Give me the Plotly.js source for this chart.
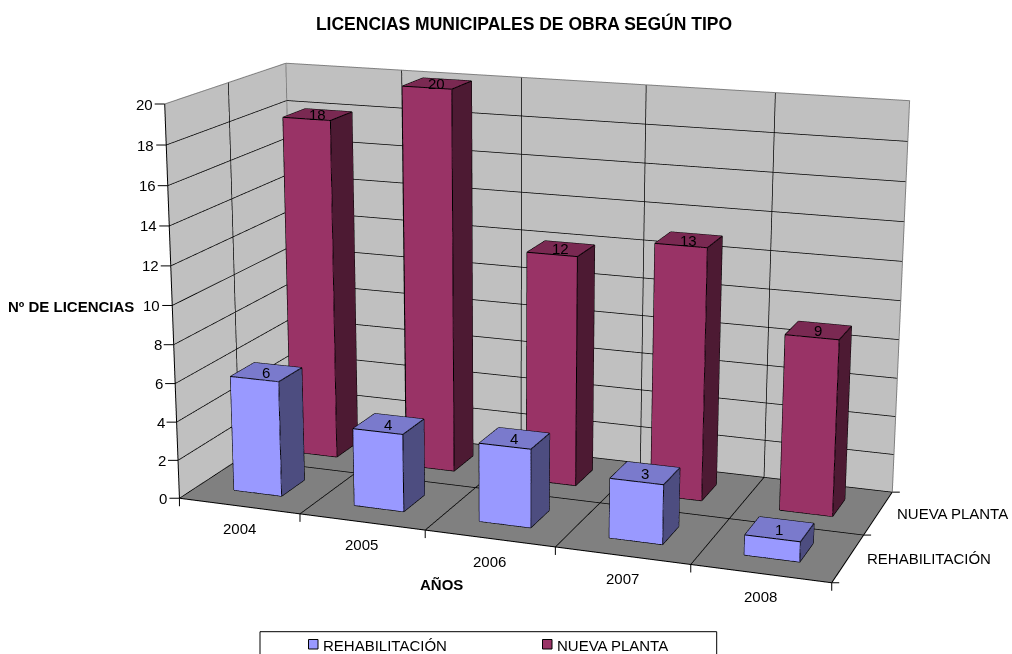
<!DOCTYPE html>
<html><head><meta charset="utf-8"><script src="https://cdn.plot.ly/plotly-3.0.1.min.js"></script>
<style>html,body{margin:0;padding:0;background:#fff;overflow:hidden}</style></head><body><div id="c" style="width:1012px;height:654px"></div>
<script>
var years=['2004','2005','2006','2007','2008'];
var series=['REHABILITACIÓN','NUEVA PLANTA'];
var rehab=[6,4,4,3,1];
var nueva=[18,20,12,13,9];
var zTicks=[0,2,4,6,8,10,12,14,16,18,20];
var W=1012,H=654;
var eye={x:1.9372,y:-5.4091,z:1.4933},center={x:-0.0471,y:-0.0984,z:-0.0406},up={x:0.0138,y:-0.0325,z:1};
var aspect={x:1.6664,y:0.6725,z:1},tanHalfFov=0.1358;
var COL={rehab:['#9999FF','#7A7ACC','#4D4D80'],nueva:['#993366','#7A2952','#4D1A33']};
var bw=0.4,bd=0.40,bo=0.01;
function barMesh(vals,yc,cols,name){var x=[],y=[],z=[],i=[],j=[],k=[],fc=[],lx=[],ly=[],lz=[];
 vals.forEach(function(v,n){var x0=n+.5-bw/2,x1=n+.5+bw/2,y0=yc+bo-bd/2,y1=yc+bo+bd/2,b=x.length;
  [[x0,y0,0],[x1,y0,0],[x1,y1,0],[x0,y1,0],[x0,y0,v],[x1,y0,v],[x1,y1,v],[x0,y1,v]].forEach(function(p){x.push(p[0]);y.push(p[1]);z.push(p[2]);});
  var faces=[[0,1,5,cols[0]],[0,5,4,cols[0]],[4,5,6,cols[1]],[4,6,7,cols[1]],[1,2,6,cols[2]],[1,6,5,cols[2]],[3,2,6,cols[0]],[3,6,7,cols[0]],[0,3,7,cols[2]],[0,7,4,cols[2]]];
  faces.forEach(function(f){i.push(b+f[0]);j.push(b+f[1]);k.push(b+f[2]);fc.push(f[3]);});
  [[0,1],[1,2],[4,5],[5,6],[6,7],[7,4],[0,4],[1,5],[2,6]].forEach(function(e){lx.push(x[b+e[0]],x[b+e[1]],null);ly.push(y[b+e[0]],y[b+e[1]],null);lz.push(z[b+e[0]],z[b+e[1]],null);});
 });
 return [{type:'mesh3d',name:name,x:x,y:y,z:z,i:i,j:j,k:k,facecolor:fc,flatshading:true,lighting:{ambient:1,diffuse:0,specular:0,roughness:1,fresnel:0},hoverinfo:'skip',showscale:false},
 {type:'scatter3d',mode:'lines',x:lx,y:ly,z:lz,line:{color:'#000',width:2},hoverinfo:'skip',showlegend:false}];}
function edge(xs,ys,zs,c,w){return {type:'scatter3d',mode:'lines',x:xs,y:ys,z:zs,line:{color:c,width:w||2},hoverinfo:'skip',showlegend:false};}
var data=barMesh(rehab,.5,COL.rehab,series[0]).concat(barMesh(nueva,1.5,COL.nueva,series[1]));
var gx=[],gy=[],gz=[];
function seg(a,b){gx.push(a[0],b[0],null);gy.push(a[1],b[1],null);gz.push(a[2],b[2],null);}
zTicks.slice(1,-1).forEach(function(v){seg([0,0,v],[0,2,v]);seg([0,2,v],[5,2,v]);});
years.forEach(function(v,n){if(n>0){seg([n,0,0],[n,2,0]);seg([n,2,0],[n,2,20]);}});
seg([0,1,0],[0,1,20]);seg([0,1,0],[5,1,0]);
seg([0,0,0],[0,2,0]);seg([0,2,0],[5,2,0]);
data.push(edge(gx,gy,gz,'#000',1.5));
data.push(edge([0,0,5,5],[0,2,2,2],[20,20,20,0],'#808080'));
data.push(edge([0,0],[2,2],[0,20],'#808080'));
data.push(edge([0,0,5,5],[0,0,0,2],[20,0,0,0],'#000'));
var F='"Liberation Sans",Arial,sans-serif',fnt={family:F,size:15,color:'#000'},tinyF={family:F,size:1,color:'#000'};
var ann=[];
function tick(x,y,ax,ay){return {x:x,y:y,z:0,text:' ',showarrow:true,arrowhead:0,arrowwidth:1,arrowcolor:'#000',ax:ax,ay:ay,font:tinyF,borderpad:0};}
zTicks.forEach(function(v){ann.push({x:0,y:0,z:v,text:String(v),showarrow:true,arrowhead:0,arrowwidth:1,arrowcolor:'#000',ax:-10,ay:0,xanchor:'right',yanchor:'middle',font:fnt});});
years.forEach(function(v,n){ann.push({x:n+.5,y:0,z:0,text:v,showarrow:false,yshift:-23,font:fnt});});
[0,1,2,3,4,5].forEach(function(n){ann.push(tick(n,0,0,9));});
[0,1,2].forEach(function(n){ann.push(tick(5,n,8,0));});
series.forEach(function(s,n){ann.push({x:5,y:n+.5,z:0,text:s,showarrow:false,xanchor:'left',xshift:17,font:fnt});});
rehab.forEach(function(v,n){ann.push({x:n+.5,y:.5,z:v,text:String(v),showarrow:false,font:fnt});});
nueva.forEach(function(v,n){ann.push({x:n+.5,y:1.5,z:v,text:String(v),showarrow:false,font:fnt});});
function ax3(r,d){return {range:r,tick0:0,dtick:d,autorange:false,title:{text:''},showticklabels:false,ticks:'',showgrid:false,zeroline:false,showline:false,showspikes:false,showbackground:true,backgroundcolor:'#C0C0C0'};}
var xa=ax3([0,5],1),ya=ax3([0,2],1),za=ax3([0,20],2);za.backgroundcolor='#808080';
function paperX(p){return p/W} function paperY(p){return 1-p/H}
var shapes=[
 {type:'rect',xref:'paper',yref:'paper',x0:paperX(260),x1:paperX(716.7),y0:paperY(631.7),y1:-0.05,line:{color:'#000',width:1},fillcolor:'#fff'},
 {type:'rect',xref:'paper',yref:'paper',x0:paperX(308.5),x1:paperX(318),y0:paperY(639.5),y1:paperY(649),line:{color:'#000',width:1},fillcolor:COL.rehab[0]},
 {type:'rect',xref:'paper',yref:'paper',x0:paperX(542.5),x1:paperX(552),y0:paperY(639.5),y1:paperY(649),line:{color:'#000',width:1},fillcolor:COL.nueva[0]}];
var pann=[
 {xref:'paper',yref:'paper',x:paperX(71),y:paperY(306),xanchor:'center',yanchor:'middle',text:'<b>Nº DE LICENCIAS</b>',showarrow:false,font:fnt},
 {xref:'paper',yref:'paper',x:paperX(441.5),y:paperY(584),xanchor:'center',yanchor:'middle',text:'<b>AÑOS</b>',showarrow:false,font:fnt},
 {xref:'paper',yref:'paper',x:paperX(321),y:paperY(645),text:series[0],showarrow:false,xanchor:'left',yanchor:'middle',font:fnt},
 {xref:'paper',yref:'paper',x:paperX(555),y:paperY(645),text:series[1],showarrow:false,xanchor:'left',yanchor:'middle',font:fnt}];
var gd=document.getElementById('c');
Plotly.newPlot(gd,data,{width:W,height:H,margin:{l:0,r:0,t:0,b:0},paper_bgcolor:'#fff',showlegend:false,
 title:{text:'<b>LICENCIAS MUNICIPALES DE OBRA SEGÚN TIPO</b>',font:{family:F,size:17.5,color:'#000'},x:524/W,xanchor:'center',y:1-24/H,yanchor:'middle'},
 scene:{domain:{x:[0,1],y:[0,1]},aspectmode:'manual',aspectratio:aspect,
  camera:{eye:eye,center:center,up:up,projection:{type:'perspective'}},
  xaxis:xa,yaxis:ya,zaxis:za,annotations:ann,bgcolor:'#fff'},
 shapes:shapes,annotations:pann},{displayModeBar:false}).then(function(){
  var gl=gd._fullLayout.scene._scene.glplot;
  gl.fovy=2*Math.atan(tanHalfFov);
  gl.redraw();
 });
</script></body></html>
